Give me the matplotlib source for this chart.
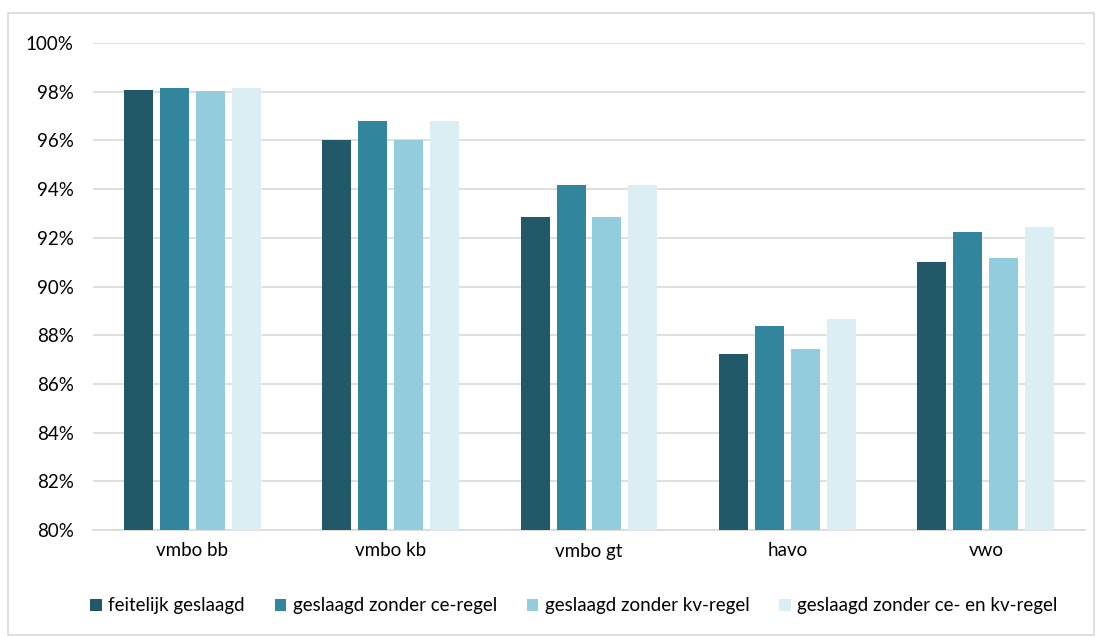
import numpy as np
import matplotlib.pyplot as plt
from matplotlib.patches import Rectangle

plt.rcParams['font.family'] = ['Lato', 'DejaVu Sans']

categories = ['vmbo bb', 'vmbo kb', 'vmbo gt', 'havo', 'vwo']
series_names = ['feitelijk geslaagd', 'geslaagd zonder ce-regel',
                'geslaagd zonder kv-regel', 'geslaagd zonder ce- en kv-regel']
feitelijk = [98.07, 96.02, 92.84, 87.21, 91.02]
zonder_ce = [98.15, 96.78, 94.18, 88.38, 92.24]
zonder_kv = [98.03, 96.01, 92.84, 87.45, 91.16]
zonder_beide = [98.15, 96.78, 94.18, 88.66, 92.44]
yticks = [80, 82, 84, 86, 88, 90, 92, 94, 96, 98, 100]

colors = ['#215968', '#31859C', '#93CDDD', '#DAEEF3']
series = [feitelijk, zonder_ce, zonder_kv, zonder_beide]

fig = plt.figure(figsize=(11.03, 6.37), dpi=100)
ax = fig.add_axes([93 / 1103, 1 - 530 / 637, 992 / 1103, 487 / 637])

x = np.arange(len(categories))
width = 0.146
step = 0.181
for i, (vals, col, name) in enumerate(zip(series, colors, series_names)):
    ax.bar(x + (i - 1.5) * step, np.array(vals) - 80, width, bottom=80,
           color=col, label=name, zorder=3)

ax.set_xlim(-0.5, len(categories) - 0.5)
ax.set_ylim(80, 100)
ax.set_yticks(yticks)
ax.set_yticklabels([f'{t}%' for t in yticks])
ax.set_xticks(x)
ax.set_xticklabels(categories)
ax.tick_params(axis='both', length=0, labelsize=13.5, colors='black')
ax.tick_params(axis='y', pad=14)
ax.tick_params(axis='x', pad=9)
ax.grid(axis='y', color='#D9D9D9', linewidth=1.2, zorder=0)
for s in ['top', 'right', 'left']:
    ax.spines[s].set_visible(False)
ax.spines['bottom'].set_color('#D9D9D9')
ax.spines['bottom'].set_linewidth(1.2)

fig.legend(loc='center', bbox_to_anchor=(574 / 1103, 1 - 606 / 637), ncol=4,
           frameon=False, fontsize=13.5, handlelength=0.6, handleheight=0.6,
           handletextpad=0.35, columnspacing=1.6)

fig.patches.append(Rectangle((8 / 1103, 2 / 637), 1086 / 1103, 622 / 637,
                             transform=fig.transFigure, fill=False,
                             edgecolor='#D9D9D9', linewidth=1.2))

fig.savefig('out.png', dpi=100)
